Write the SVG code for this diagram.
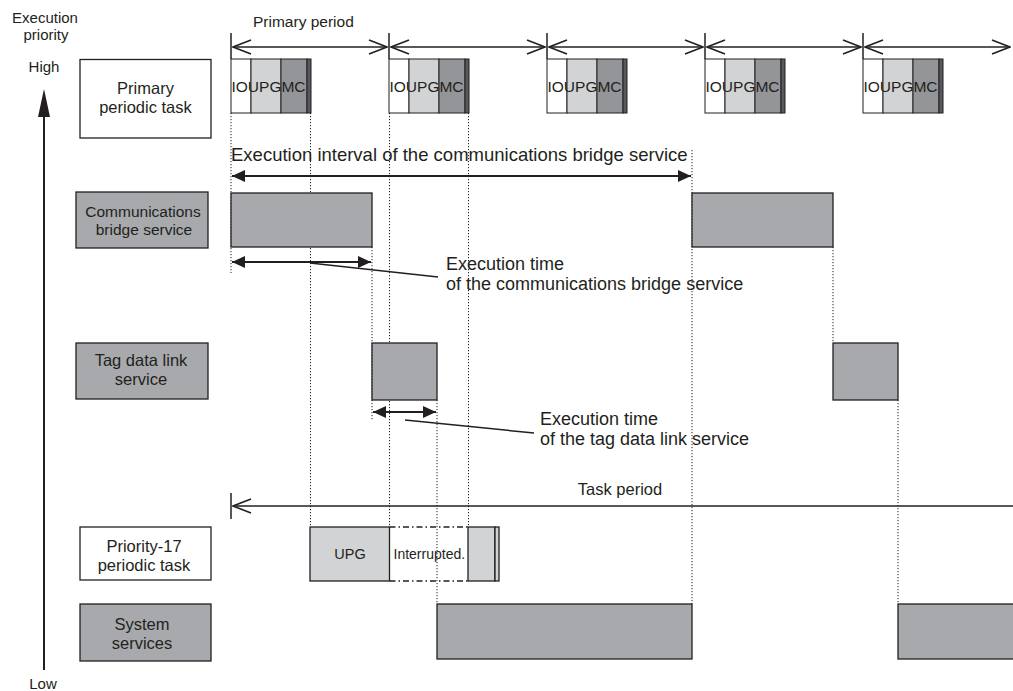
<svg xmlns="http://www.w3.org/2000/svg" width="1013" height="691" viewBox="0 0 1013 691">
<style>
text{font-family:"Liberation Sans",Arial,Helvetica,sans-serif;fill:#231f20}
.lbl{font-size:16.5px;text-anchor:middle}
.box{stroke:#231f20;stroke-width:1.3}
.g{fill:#a7a9ac}
.w{fill:#ffffff}
.lt{fill:#d1d3d4}
.md{fill:#939598}
.dk{fill:#58595b}
.cell{stroke:#231f20;stroke-width:1}
.blk{font-size:15.5px}
.dot{stroke:#231f20;stroke-width:1;stroke-dasharray:1.2 1.8;fill:none}
.ln{stroke:#231f20;stroke-width:1.5;fill:none}
.ln2{stroke:#231f20;stroke-width:2;fill:none}
.big{font-size:18px}
</style>
<defs>
<marker id="chev" viewBox="0 0 20 16" refX="19" refY="8" markerWidth="20" markerHeight="16" markerUnits="userSpaceOnUse" orient="auto-start-reverse">
<path d="M1,1 L19,8 L1,15" fill="none" stroke="#231f20" stroke-width="1.6"/>
</marker>
<marker id="tri" viewBox="0 0 13 12" refX="13" refY="6" markerWidth="13" markerHeight="12" markerUnits="userSpaceOnUse" orient="auto-start-reverse">
<path d="M0,0 L13,6 L0,12 z" fill="#231f20"/>
</marker>
</defs>

<g id="axis">
<text x="45" y="23" font-size="15" text-anchor="middle">Execution</text>
<text x="46" y="40" font-size="15" text-anchor="middle">priority</text>
<text x="44" y="72" font-size="15" text-anchor="middle">High</text>
<path d="M38,117 L44,89 L50,117 z" fill="#231f20"/>
<line x1="44" y1="112" x2="44" y2="670" stroke="#231f20" stroke-width="2"/>
<text x="43" y="689" font-size="15" text-anchor="middle">Low</text>
</g>

<g id="label-primary">
<rect x="80" y="59.5" width="131" height="78.5" class="box w"/>
<text class="lbl" x="145.5" y="94">Primary</text>
<text class="lbl" x="145.5" y="112.5">periodic task</text>
</g>
<g id="label-comm">
<rect x="76" y="192" width="132" height="56" class="box g"/>
<text x="143" y="217" font-size="15.5" text-anchor="middle">Communications</text>
<text x="144" y="235" font-size="15.5" text-anchor="middle">bridge service</text>
</g>
<g id="label-tag">
<rect x="76" y="343" width="132" height="56" class="box g"/>
<text class="lbl" x="141" y="366">Tag data link</text>
<text class="lbl" x="141" y="384.5">service</text>
</g>
<g id="label-p17">
<rect x="80" y="527" width="131" height="53" class="box w"/>
<text class="lbl" x="144" y="552">Priority-17</text>
<text class="lbl" x="144" y="570.5">periodic task</text>
</g>
<g id="label-sys">
<rect x="80" y="604" width="131" height="57" class="box g"/>
<text class="lbl" x="142" y="630">System</text>
<text class="lbl" x="142" y="648.5">services</text>
</g>

<g id="guides">
<line class="dot" x1="231" y1="113" x2="231" y2="273"/>
<line class="dot" x1="310.5" y1="113" x2="310.5" y2="527"/>
<line class="dot" x1="372" y1="247" x2="372" y2="420"/>
<line class="dot" x1="389.5" y1="113" x2="389.5" y2="527"/>
<line class="dot" x1="437" y1="400" x2="437" y2="604"/>
<line class="dot" x1="468.5" y1="113" x2="468.5" y2="527"/>
<line class="dot" x1="692" y1="150" x2="692" y2="604"/>
<line class="dot" x1="833" y1="247" x2="833" y2="343"/>
<line class="dot" x1="898" y1="400" x2="898" y2="604"/>
</g>

<g id="primary-period">
<text x="253" y="27" font-size="15.5">Primary period</text>
<line class="ln" x1="231" y1="33" x2="231" y2="59"/>
<line class="ln" x1="389" y1="33" x2="389" y2="59"/>
<line class="ln" x1="547" y1="33" x2="547" y2="59"/>
<line class="ln" x1="705" y1="33" x2="705" y2="59"/>
<line class="ln" x1="863" y1="33" x2="863" y2="59"/>
<line class="ln" x1="233" y1="47" x2="387" y2="47" marker-start="url(#chev)" marker-end="url(#chev)"/>
<line class="ln" x1="391" y1="47" x2="545" y2="47" marker-start="url(#chev)" marker-end="url(#chev)"/>
<line class="ln" x1="549" y1="47" x2="703" y2="47" marker-start="url(#chev)" marker-end="url(#chev)"/>
<line class="ln" x1="707" y1="47" x2="861" y2="47" marker-start="url(#chev)" marker-end="url(#chev)"/>
<line class="ln" x1="865" y1="47" x2="1010" y2="47" marker-start="url(#chev)" marker-end="url(#chev)"/>
</g>

<g id="primary-block-1">
<rect x="231" y="59" width="20" height="54" class="cell w"/>
<rect x="251" y="59" width="30" height="54" class="cell lt"/>
<rect x="281" y="59" width="26" height="54" class="cell md"/>
<rect x="307" y="59" width="4" height="54" class="cell dk"/>
<text class="blk" x="231.5" y="92">IOUPGMC</text>
</g>
<g id="primary-block-2">
<rect x="389" y="59" width="20" height="54" class="cell w"/>
<rect x="409" y="59" width="30" height="54" class="cell lt"/>
<rect x="439" y="59" width="26" height="54" class="cell md"/>
<rect x="465" y="59" width="4" height="54" class="cell dk"/>
<text class="blk" x="389.5" y="92">IOUPGMC</text>
</g>
<g id="primary-block-3">
<rect x="547" y="59" width="20" height="54" class="cell w"/>
<rect x="567" y="59" width="30" height="54" class="cell lt"/>
<rect x="597" y="59" width="26" height="54" class="cell md"/>
<rect x="623" y="59" width="4" height="54" class="cell dk"/>
<text class="blk" x="547.5" y="92">IOUPGMC</text>
</g>
<g id="primary-block-4">
<rect x="705" y="59" width="20" height="54" class="cell w"/>
<rect x="725" y="59" width="30" height="54" class="cell lt"/>
<rect x="755" y="59" width="26" height="54" class="cell md"/>
<rect x="781" y="59" width="4" height="54" class="cell dk"/>
<text class="blk" x="705.5" y="92">IOUPGMC</text>
</g>
<g id="primary-block-5">
<rect x="863" y="59" width="20" height="54" class="cell w"/>
<rect x="883" y="59" width="30" height="54" class="cell lt"/>
<rect x="913" y="59" width="26" height="54" class="cell md"/>
<rect x="939" y="59" width="4" height="54" class="cell dk"/>
<text class="blk" x="863.5" y="92">IOUPGMC</text>
</g>

<g id="comm-block-1"><rect x="231" y="193" width="141" height="54" class="box g"/></g>
<g id="comm-block-2"><rect x="692" y="193" width="141" height="54" class="box g"/></g>
<g id="tag-block-1"><rect x="372" y="343" width="65" height="57" class="box g"/></g>
<g id="tag-block-2"><rect x="833" y="343" width="65" height="57" class="box g"/></g>
<g id="sys-block-1"><rect x="437" y="604" width="255" height="55" class="box g"/></g>
<g id="sys-block-2"><rect x="898" y="604" width="120" height="55" class="box g"/></g>

<g id="p17-blocks">
<rect x="310" y="527" width="79.5" height="54" class="box lt"/>
<text x="350" y="559" font-size="14.5" text-anchor="middle">UPG</text>
<line x1="389.5" y1="527" x2="468" y2="527" stroke="#231f20" stroke-width="1.3" stroke-dasharray="6 3 1.5 3"/>
<line x1="389.5" y1="581" x2="468" y2="581" stroke="#231f20" stroke-width="1.3" stroke-dasharray="6 3 1.5 3"/>
<text x="393.5" y="559" font-size="14">Interrupted.</text>
<rect x="468" y="527" width="27" height="54" class="box lt"/>
<rect x="495" y="527" width="4" height="54" class="box lt"/>
</g>

<g id="connectors">
<text x="231" y="161" font-size="18.5px">Execution interval of the communications bridge service</text>
<line class="ln2" x1="232" y1="176" x2="691" y2="176" marker-start="url(#tri)" marker-end="url(#tri)"/>
<line class="ln2" x1="232" y1="262" x2="371" y2="262" marker-start="url(#tri)" marker-end="url(#tri)"/>
<line class="ln" x1="310" y1="263" x2="438" y2="277"/>
<text class="big" x="446" y="269.5">Execution time</text>
<text class="big" x="446" y="289.5">of the communications bridge service</text>
<line class="ln2" x1="373" y1="412" x2="436" y2="412" marker-start="url(#tri)" marker-end="url(#tri)"/>
<line class="ln" x1="405" y1="420" x2="534" y2="433"/>
<text class="big" x="540" y="424.5">Execution time</text>
<text class="big" x="540" y="444.5">of the tag data link service</text>
<line class="ln" x1="231" y1="493" x2="231" y2="519"/>
<line class="ln" x1="233" y1="506" x2="1013" y2="506" marker-start="url(#chev)"/>
<text x="620" y="495" font-size="16.5" text-anchor="middle">Task period</text>
</g>
</svg>
